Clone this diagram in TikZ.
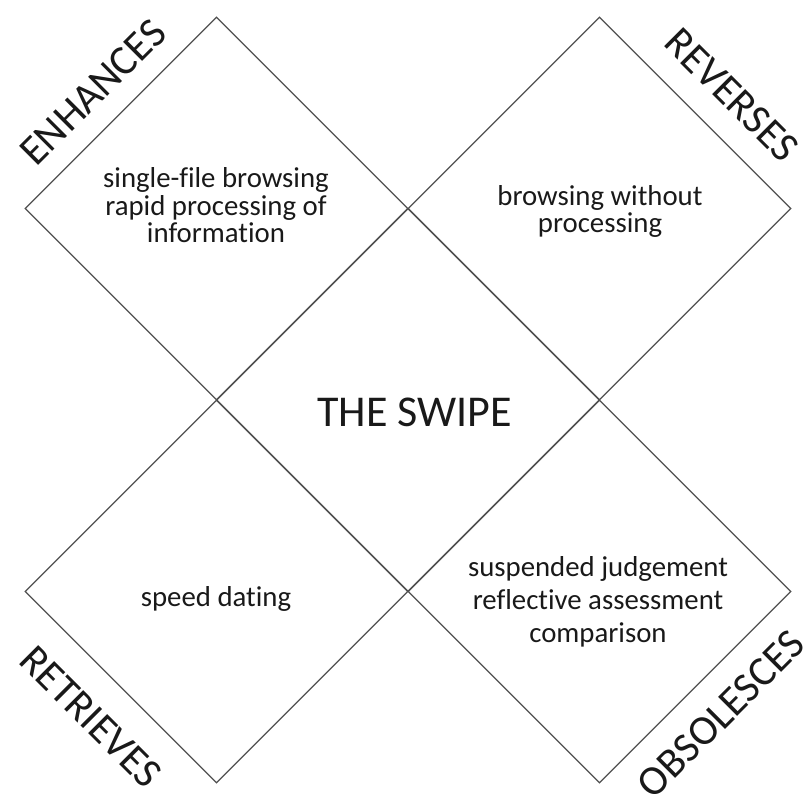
\documentclass[tikz,border=0pt]{standalone}
\usepackage{fontspec}
\setmainfont{Carlito}[Ligatures=NoCommon]
\usetikzlibrary{shapes.geometric}
\definecolor{linegray}{RGB}{80,80,80}
\definecolor{txt}{RGB}{25,25,25}
\begin{document}
\begin{tikzpicture}[x=1pt,y=-1pt,
  quad/.style={diamond, aspect=1, draw=linegray, line width=1.3pt,
    minimum width=383pt, minimum height=383pt, inner sep=0pt},
  body/.style={text=txt, align=center, inner sep=0pt,
    font=\fontsize{28.8}{27.5}\selectfont},
  bodywide/.style={body, font=\fontsize{28.8}{33}\selectfont},
  cornerlabel/.style={text=txt, inner sep=0pt, font=\fontsize{42}{50}\selectfont},
  title/.style={text=txt, inner sep=0pt, font=\fontsize{44}{50}\selectfont}]
\useasboundingbox (0,0) rectangle (809,806);
% the five diamonds
\node[quad] (tl) at (216.5,208.5) {};
\node[quad] (tr) at (599.5,208.5) {};
\node[quad] (ctr) at (408,400) {};
\node[quad] (bl) at (216.5,591.5) {};
\node[quad] (br) at (599.5,591.5) {};
% texts inside
\node[body] (tltext) at (216,205.5) {single-file browsing\\rapid processing of\\information};
\node[body] (trtext) at (600,211.5) {browsing without\\processing};
\node[body] (bltext) at (216,598.5) {speed dating};
\node[bodywide] (brtext) at (598,602) {suspended judgement\\reflective assessment\\comparison};
\node[title] (swipe) at (414.5,412.5) {THE SWIPE};
% corner labels
\node[cornerlabel, rotate=45] (enh) at (93,92) {ENHANCES};
\node[cornerlabel, rotate=-45] (rev) at (732,95) {REVERSES};
\node[cornerlabel, rotate=-45] (ret) at (91,717) {RETRIEVES};
\node[cornerlabel, rotate=45] (obs) at (721,714) {OBSOLESCES};
\end{tikzpicture}
\end{document}
